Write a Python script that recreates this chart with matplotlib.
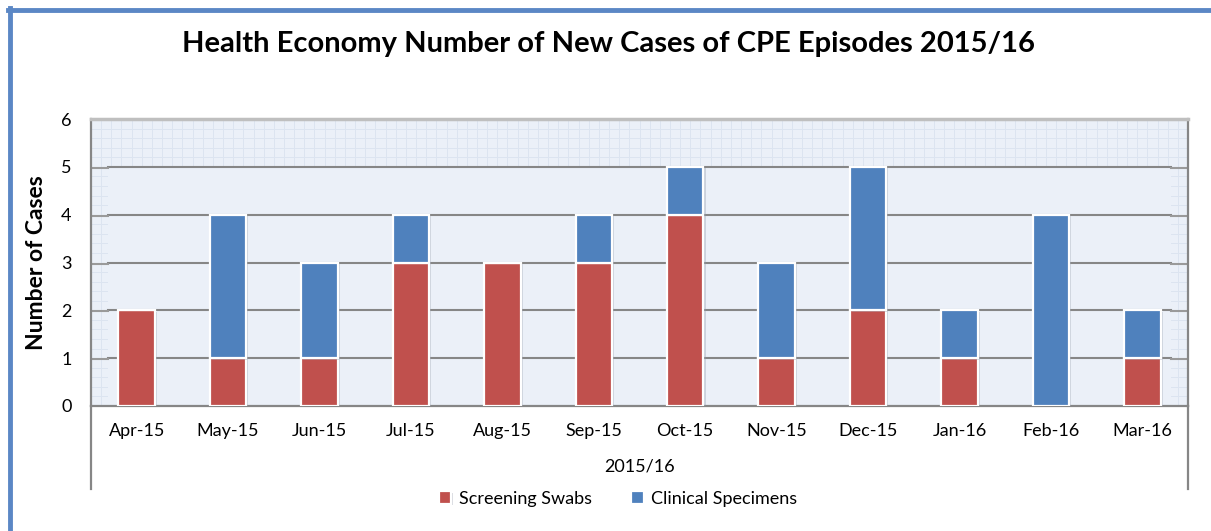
import matplotlib
matplotlib.use("Agg")
import matplotlib.pyplot as plt
from matplotlib.lines import Line2D
from matplotlib.patches import Rectangle
import matplotlib.patheffects as pe
import numpy as np

plt.rcParams['font.family'] = ['Lato', 'DejaVu Sans']

months = ["Apr-15", "May-15", "Jun-15", "Jul-15", "Aug-15", "Sep-15",
          "Oct-15", "Nov-15", "Dec-15", "Jan-16", "Feb-16", "Mar-16"]
screening = [2, 1, 1, 3, 3, 3, 4, 1, 2, 1, 0, 1]
clinical = [0, 3, 2, 1, 0, 1, 1, 2, 3, 1, 4, 1]
yticks = [0, 1, 2, 3, 4, 5, 6]

title = "Health Economy Number of New Cases of CPE Episodes 2015/16"
ylabel = "Number of Cases"
xlabel = "2015/16"

RED = "#C0504D"
BLUE = "#4F81BD"
BG = "#EBF0F8"

W, H = 1211, 531
fig = plt.figure(figsize=(W/100, H/100), dpi=100)

L, R, T, B = 91, 1188, 119, 406
ax = fig.add_axes([L/W, 1-B/H, (R-L)/W, (B-T)/H])
ax.set_facecolor(BG)
x = np.arange(len(months))
ax.set_xlim(-0.5, len(months)-0.5)
ax.set_ylim(0, 6)

# fine wall grid
for yy in np.arange(0, 6.001, 0.2):
    ax.axhline(yy, color="#DCE4F0", lw=0.7, zorder=0)
for xx in np.arange(-0.5, len(months)-0.5, 1/9):
    ax.axvline(xx, color="#DCE4F0", lw=0.7, zorder=0)
# inner back wall (no fine grid below 5)
x0 = (108-L)/(R-L); x1 = (1171-L)/(R-L)
ax.add_patch(Rectangle((x0, 0), x1-x0, 5/6, transform=ax.transAxes,
                       facecolor=BG, edgecolor="none", zorder=0.5))
for yy in yticks[1:-1]:
    ax.plot([x0, x1], [yy/6, yy/6], transform=ax.transAxes, color="#868686", lw=1.5, zorder=1)
    ax.plot([0, x0], [yy/6-0.004, yy/6-0.004], transform=ax.transAxes, color="#9A9A9A", lw=1.5, zorder=1)
    ax.plot([x1, 1], [yy/6-0.004, yy/6-0.004], transform=ax.transAxes, color="#9A9A9A", lw=1.5, zorder=1)

shadow = [pe.SimplePatchShadow(offset=(1.5, -1), shadow_rgbFace="#9098A8", alpha=0.35), pe.Normal()]
w = 0.40
b1 = ax.bar(x, screening, width=w, color=RED, edgecolor="white", linewidth=1.6,
            label="Screening Swabs", zorder=3)
b2 = ax.bar(x, clinical, width=w, bottom=screening, color=BLUE, edgecolor="white",
            linewidth=1.6, label="Clinical Specimens", zorder=3)
for p in list(b1) + list(b2):
    if p.get_height() > 0:
        p.set_path_effects(shadow)

for s in ["top", "right", "left", "bottom"]:
    ax.spines[s].set_color("#868686")
    ax.spines[s].set_linewidth(1.6)
ax.spines["top"].set_color("#BFBFBF")
ax.spines["top"].set_linewidth(2.5)

ax.set_yticks(yticks)
ax.set_yticklabels([str(v) for v in yticks], fontsize=13)
ax.tick_params(axis="y", length=0, pad=14)
ax.set_xticks(x)
ax.set_xticklabels(months, fontsize=13)
ax.tick_params(axis="x", length=0, pad=12)

# extension lines of the category axis
for xp in [L, R]:
    fig.add_artist(Line2D([xp/W, xp/W], [1-B/H, 1-489/H], color="#868686", lw=1.6))

fig.text(640/W, 1-467/H, xlabel, ha="center", va="center", fontsize=13)
fig.text(37/W, 1-(T+B)/2/H, ylabel, rotation=90, ha="center", va="center",
         fontsize=16.5, fontweight="bold")
fig.text(608/W, 1-44/H, title, ha="center", va="center", fontsize=21, fontweight="bold")

fig.legend(handles=[b1, b2], loc="center", bbox_to_anchor=(618/W, 1-499/H), ncol=2,
           frameon=False, fontsize=13, handlelength=0.7, handleheight=0.7,
           handletextpad=0.4, columnspacing=2.2)

# outer blue frame (left and top)
fig.add_artist(Line2D([10/W, 10/W], [0, 1-8/H], color="#5B87C5", lw=3.5))
fig.add_artist(Line2D([8/W, 1], [1-10/H, 1-10/H], color="#5B87C5", lw=3.5))

fig.savefig("out.png", dpi=100, facecolor="white")
